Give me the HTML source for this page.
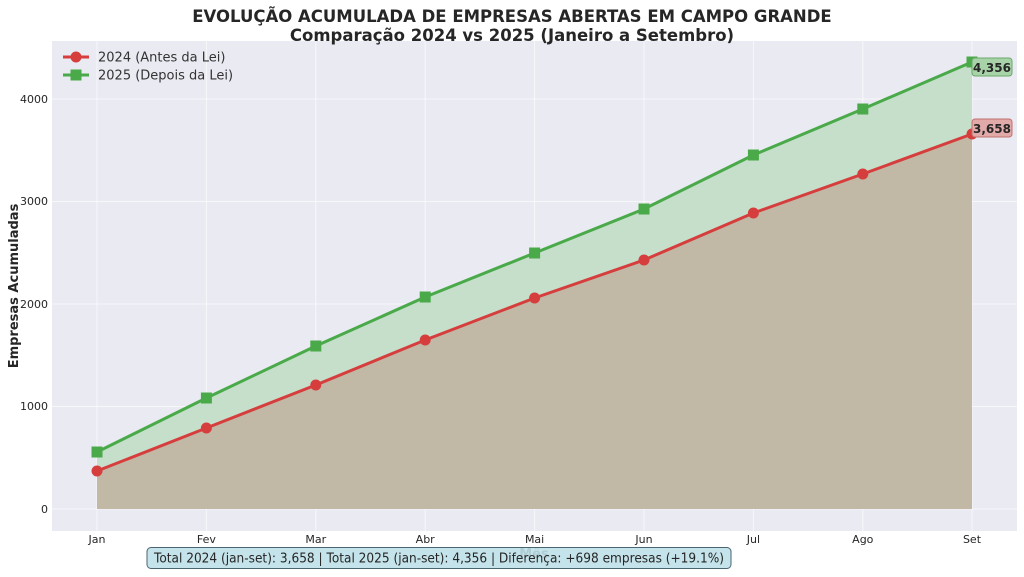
<!DOCTYPE html>
<html><head><meta charset="utf-8"><style>
html,body{margin:0;padding:0;background:#fff;}
svg text{font-family:"DejaVu Sans","Liberation Sans",sans-serif;}
</style></head><body>
<svg width="1024" height="572" viewBox="0 0 1024 572" xmlns="http://www.w3.org/2000/svg">
<rect width="1024" height="572" fill="#fff"/>
<rect x="52" y="41" width="965" height="490" fill="#eaeaf2"/>
<g stroke="#fff" stroke-width="1" stroke-opacity="0.6">
<line x1="52" x2="1017" y1="509" y2="509"/><line x1="52" x2="1017" y1="406.5" y2="406.5"/><line x1="52" x2="1017" y1="304" y2="304"/><line x1="52" x2="1017" y1="201.5" y2="201.5"/><line x1="52" x2="1017" y1="99" y2="99"/>
<line x1="97" x2="97" y1="41" y2="531"/><line x1="206.4" x2="206.4" y1="41" y2="531"/><line x1="315.8" x2="315.8" y1="41" y2="531"/><line x1="425.2" x2="425.2" y1="41" y2="531"/><line x1="534.6" x2="534.6" y1="41" y2="531"/><line x1="644" x2="644" y1="41" y2="531"/><line x1="753.4" x2="753.4" y1="41" y2="531"/><line x1="862.8" x2="862.8" y1="41" y2="531"/><line x1="972" x2="972" y1="41" y2="531"/>
</g>
<polygon fill="#c5dfcb" points="97,509 97,452 206.4,398 315.8,346 425.2,297 534.6,253 644,209 753.4,155 862.8,109 972,62 972,509"/>
<polygon fill="#c1b9a6" points="97,509 97,471 206.4,428 315.8,385 425.2,340 534.6,298 644,260 753.4,213 862.8,174 972,134 972,509"/>
<polyline fill="none" stroke="#4aaa4a" stroke-width="3" points="97,452 206.4,398 315.8,346 425.2,297 534.6,253 644,209 753.4,155 862.8,109 972,62"/>
<polyline fill="none" stroke="#d63e3e" stroke-width="3" points="97,471 206.4,428 315.8,385 425.2,340 534.6,298 644,260 753.4,213 862.8,174 972,134"/>
<g fill="#4aaa4a">
<rect x="91.5" y="446.5" width="11" height="11"/><rect x="200.9" y="392.5" width="11" height="11"/><rect x="310.3" y="340.5" width="11" height="11"/><rect x="419.7" y="291.5" width="11" height="11"/><rect x="529.1" y="247.5" width="11" height="11"/><rect x="638.5" y="203.5" width="11" height="11"/><rect x="747.9" y="149.5" width="11" height="11"/><rect x="857.3" y="103.5" width="11" height="11"/><rect x="966.5" y="56.5" width="11" height="11"/>
</g>
<g fill="#d63e3e">
<circle cx="97" cy="471" r="5.5"/><circle cx="206.4" cy="428" r="5.5"/><circle cx="315.8" cy="385" r="5.5"/><circle cx="425.2" cy="340" r="5.5"/><circle cx="534.6" cy="298" r="5.5"/><circle cx="644" cy="260" r="5.5"/><circle cx="753.4" cy="213" r="5.5"/><circle cx="862.8" cy="174" r="5.5"/><circle cx="972" cy="134" r="5.5"/>
</g>
<rect x="972" y="58" width="40" height="18" rx="3" fill="#a8d3a8" stroke="#6aa86a" stroke-width="1"/>
<text x="992" y="72" text-anchor="middle" font-size="12" font-weight="bold" fill="#262626">4,356</text>
<rect x="972" y="119" width="40" height="18" rx="3" fill="#e2a9a9" stroke="#c07070" stroke-width="1"/>
<text x="992" y="133" text-anchor="middle" font-size="12" font-weight="bold" fill="#262626">3,658</text>
<g font-size="11" fill="#262626" text-anchor="end">
<text x="48" y="513">0</text><text x="48" y="410">1000</text><text x="48" y="308">2000</text><text x="48" y="205">3000</text><text x="48" y="103">4000</text>
</g>
<g font-size="11" fill="#262626" text-anchor="middle">
<text x="97" y="543">Jan</text><text x="206.4" y="543">Fev</text><text x="315.8" y="543">Mar</text><text x="425.2" y="543">Abr</text><text x="534.6" y="543">Mai</text><text x="644" y="543">Jun</text><text x="753.4" y="543">Jul</text><text x="862.8" y="543">Ago</text><text x="972" y="543">Set</text>
</g>
<text x="534" y="558" text-anchor="middle" font-size="13" font-weight="bold" fill="#262626">Mês</text>
<text transform="translate(18,286) rotate(-90)" text-anchor="middle" font-size="13" font-weight="bold" fill="#262626">Empresas Acumuladas</text>
<line x1="63" x2="89" y1="57" y2="57" stroke="#d63e3e" stroke-width="3"/><circle cx="76" cy="57" r="5.5" fill="#d63e3e"/>
<text x="98" y="61.5" font-size="13" fill="#333">2024 (Antes da Lei)</text>
<line x1="63" x2="89" y1="75" y2="75" stroke="#4aaa4a" stroke-width="3"/><rect x="70.5" y="69.5" width="11" height="11" fill="#4aaa4a"/>
<text x="98" y="79.5" font-size="13" fill="#333">2025 (Depois da Lei)</text>
<rect x="147" y="547.5" width="584" height="21" rx="4" fill="#bfe0e8" fill-opacity="0.9" stroke="#4a6470" stroke-width="1"/>
<text x="439" y="562.5" text-anchor="middle" font-size="13" fill="#262626" textLength="570" lengthAdjust="spacingAndGlyphs">Total 2024 (jan-set): 3,658 | Total 2025 (jan-set): 4,356 | Diferença: +698 empresas (+19.1%)</text>
<text x="512" y="22" text-anchor="middle" font-size="16.5" font-weight="bold" fill="#262626">EVOLUÇÃO ACUMULADA DE EMPRESAS ABERTAS EM CAMPO GRANDE</text>
<text x="512" y="41" text-anchor="middle" font-size="16.5" font-weight="bold" fill="#262626">Comparação 2024 vs 2025 (Janeiro a Setembro)</text>
</svg>
</body></html>
